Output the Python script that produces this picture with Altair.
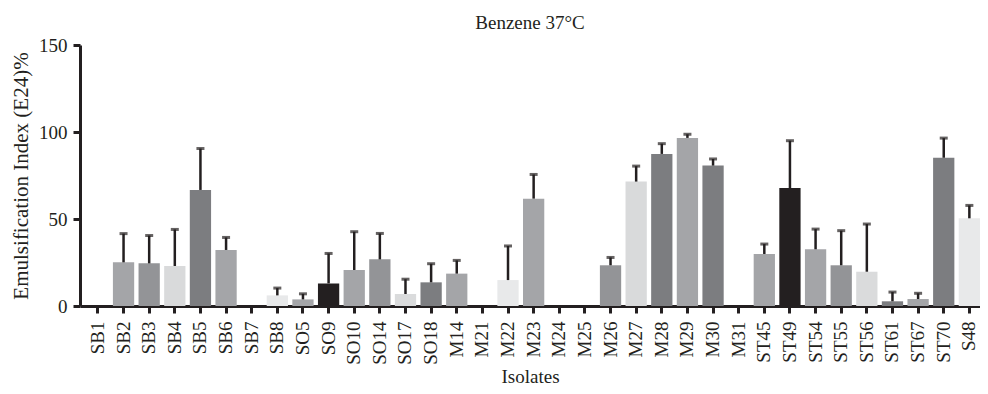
import altair as alt
import pandas as pd

isolates = ["SB1", "SB2", "SB3", "SB4", "SB5", "SB6", "SB7", "SB8", "SO5", "SO9",
            "SO10", "SO14", "SO17", "SO18", "M14", "M21", "M22", "M23", "M24", "M25",
            "M26", "M27", "M28", "M29", "M30", "M31", "ST45", "ST49", "ST54", "ST55",
            "ST56", "ST61", "ST67", "ST70", "S48"]

e24 = [0, 25.1, 24.5, 23.0, 66.7, 32.2, 0, 6.1, 3.8, 13.0,
       20.7, 26.8, 6.9, 13.6, 18.6, 0, 14.9, 61.7, 0, 0,
       23.4, 71.5, 87.4, 96.6, 80.7, 0, 29.9, 67.8, 32.6, 23.4,
       19.7, 2.7, 4.0, 85.2, 50.4]

sd = [0, 16.5, 16.0, 21.0, 23.8, 7.2, 0, 4.2, 3.2, 17.2,
      22.0, 14.9, 8.5, 10.7, 7.6, 0, 19.6, 13.9, 0, 0,
      4.5, 8.9, 5.9, 2.1, 3.8, 0, 5.7, 27.2, 11.6, 19.9,
      27.4, 5.3, 3.3, 11.3, 7.4]

colors = ["#a4a5a8", "#a4a5a8", "#939497", "#d9dadb", "#7c7d80", "#a4a5a8", "#939497", "#e8e9ea", "#a4a5a8", "#231f20",
          "#a4a5a8", "#939497", "#dadbdc", "#7c7d80", "#a4a5a8", "#939497", "#e8e9ea", "#a4a5a8", "#939497", "#a4a5a8",
          "#939497", "#d9dadb", "#7c7d80", "#a4a5a8", "#7c7d80", "#a4a5a8", "#a4a5a8", "#231f20", "#a4a5a8", "#939497",
          "#dadbdc", "#7c7d80", "#a4a5a8", "#7c7d80", "#e8e9ea"]

df = pd.DataFrame({"Isolate": isolates, "E24": e24, "SD": sd, "Color": colors})
df["Upper"] = df["E24"] + df["SD"]
bars_df = df[df["E24"] > 0]
err = df[df["SD"] > 0]

FONT = "Liberation Serif"
INK = "#231f20"

x_scale = alt.Scale(domain=isolates, paddingInner=0.17, paddingOuter=0.142, align=1)

x_enc = alt.X("Isolate:N", sort=isolates, scale=x_scale,
              axis=alt.Axis(title="Isolates", labelAngle=-90, labelFontSize=19,
                            labelPadding=8, tickSize=7, tickWidth=3, domainWidth=3,
                            titleFontSize=19, titleFontWeight="normal",
                            titleBaseline="alphabetic", titleY=76))

y_scale = alt.Scale(domain=[0, 150], nice=False)

bars = alt.Chart(bars_df).mark_bar().encode(
    x=x_enc,
    y=alt.Y("E24:Q", scale=y_scale,
            axis=alt.Axis(title="Emulsification Index (E24)%", values=[0, 50, 100, 150],
                          labelFontSize=19, labelPadding=6, tickSize=7, tickWidth=3,
                          domainWidth=3, grid=False, titleFontSize=21,
                          titleFontWeight="normal", titleBaseline="alphabetic",
                          titleX=-53)),
    color=alt.Color("Color:N", scale=None),
)

rules = alt.Chart(err).mark_rule(color=INK, strokeWidth=2.5).encode(
    x=alt.X("Isolate:N", sort=isolates, scale=x_scale),
    y=alt.Y("E24:Q", scale=y_scale),
    y2="Upper:Q",
)

caps = alt.Chart(err).mark_tick(color=INK, size=8, thickness=3).encode(
    x=alt.X("Isolate:N", sort=isolates, scale=x_scale),
    y=alt.Y("Upper:Q", scale=y_scale),
)

chart = alt.layer(bars, rules, caps).properties(
    width=900, height=261,
    title=alt.TitleParams("Benzene 37°C", fontSize=19, font=FONT, fontWeight="normal",
                          color=INK, anchor="middle", offset=3),
    autosize=alt.AutoSizeParams(type="none"),
    padding={"left": 72, "top": 37, "right": 0, "bottom": 80},
).configure_axis(
    labelFont=FONT, titleFont=FONT, labelColor=INK, titleColor=INK,
    domainColor=INK, tickColor=INK,
).configure_view(stroke=None)

chart.save("out.html", embed_options={"renderer": "svg", "actions": False})
